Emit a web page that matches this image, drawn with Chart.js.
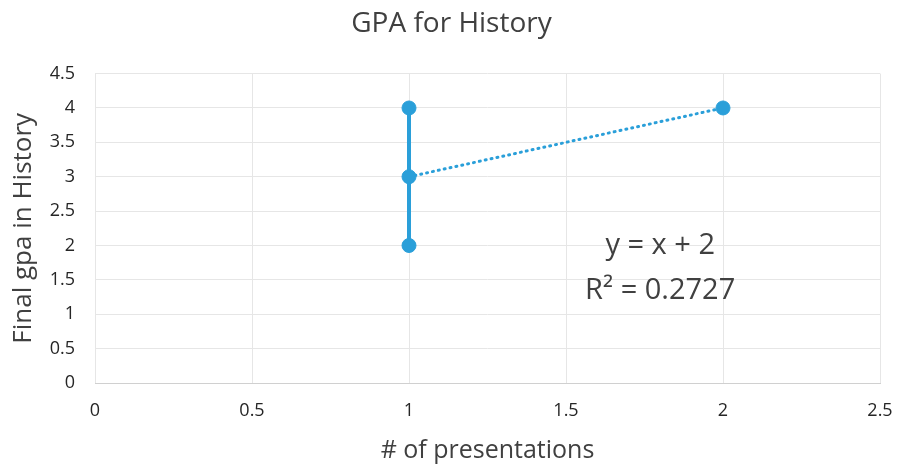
<!DOCTYPE html>
<html>
<head>
<meta charset="utf-8">
<script src="https://cdn.jsdelivr.net/npm/chart.js@4"></script>
<style>
  html, body { margin: 0; padding: 0; background: #fff; }
  #wrap { position: relative; width: 897px; height: 468px; }
</style>
</head>
<body>
<div id="wrap"><canvas id="chart"></canvas></div>
<script>
const presentations = [1, 1, 1, 2];
const finalGpa = [4, 3, 2, 4];

const xTicks = [0, 0.5, 1, 1.5, 2, 2.5];
const yTicks = [0, 0.5, 1, 1.5, 2, 2.5, 3, 3.5, 4, 4.5];

const equationLines = ['y = x + 2', 'R² = 0.2727'];
const equationAt = { x: 1.8, y: [2.0, 1.34] };

const blue = '#2a9fd9';
const textGrey = '#404040';
const font = '"Open Sans", "Liberation Sans", sans-serif';

const points = presentations.map((x, i) => ({ x: x, y: finalGpa[i] }));

// linear trendline through the observations, drawn across the data range
const n = points.length;
const mx = presentations.reduce((a, b) => a + b, 0) / n;
const my = finalGpa.reduce((a, b) => a + b, 0) / n;
let sxy = 0, sxx = 0;
points.forEach(p => { sxy += (p.x - mx) * (p.y - my); sxx += (p.x - mx) * (p.x - mx); });
const slope = sxy / sxx;
const intercept = my - slope * mx;
const xMin = Math.min(...presentations), xMax = Math.max(...presentations);
const trend = [
    { x: xMin, y: slope * xMin + intercept },
    { x: xMax, y: slope * xMax + intercept }
];

// the series line only joins the points that share x = 1
const joined = points.filter(p => p.x === xMin);

const equationPlugin = {
    id: 'equation',
    afterDatasetsDraw(chart) {
        const ctx = chart.ctx;
        const xs = chart.scales.x, ys = chart.scales.y;
        ctx.save();
        ctx.fillStyle = textGrey;
        ctx.font = '29px ' + font;
        ctx.textAlign = 'center';
        ctx.textBaseline = 'middle';
        equationLines.forEach((t, i) => {
            ctx.fillText(t, xs.getPixelForValue(equationAt.x), ys.getPixelForValue(equationAt.y[i]));
        });
        ctx.restore();
    }
};

new Chart(document.getElementById('chart'), {
    type: 'scatter',
    data: {
        datasets: [
            {
                label: 'trend',
                data: trend,
                showLine: true,
                borderColor: blue,
                borderWidth: 3,
                borderDash: [1, 5],
                borderCapStyle: 'round',
                pointRadius: 0,
                order: 3
            },
            {
                label: 'line',
                data: joined,
                showLine: true,
                borderColor: blue,
                borderWidth: 4,
                pointRadius: 0,
                order: 2
            },
            {
                label: 'Final gpa',
                data: points,
                backgroundColor: blue,
                borderColor: blue,
                pointRadius: 7,
                order: 1
            }
        ]
    },
    options: {
        responsive: true,
        maintainAspectRatio: false,
        animation: false,
        layout: { padding: { left: 6, right: 0, top: 0, bottom: 0 } },
        plugins: {
            legend: { display: false },
            tooltip: { enabled: false },
            title: {
                display: true,
                text: 'GPA for History',
                color: textGrey,
                font: { family: font, size: 28, weight: 'normal' },
                padding: { top: 7, bottom: 33 }
            }
        },
        scales: {
            x: {
                type: 'linear',
                min: 0,
                max: 2.5,
                afterBuildTicks: s => { s.ticks = xTicks.map(v => ({ value: v })); },
                afterFit: s => { s.height = 85; s.paddingRight = 17; s.paddingLeft = 0; },
                grid: { color: '#e6e6e6', drawTicks: false },
                border: { color: '#d0d0d0' },
                ticks: { color: '#262626', padding: 17, font: { family: font, size: 18 }, callback: v => String(v) },
                title: {
                    display: true,
                    text: '# of presentations',
                    color: textGrey,
                    font: { family: font, size: 25 },
                    padding: { top: 6, bottom: 2 }
                }
            },
            y: {
                min: 0,
                max: 4.5,
                afterBuildTicks: s => { s.ticks = yTicks.map(v => ({ value: v })); },
                afterFit: s => { s.width = 89; },
                grid: { color: '#e6e6e6', drawTicks: false },
                border: { display: false },
                ticks: { color: '#262626', padding: 20, font: { family: font, size: 18 }, callback: v => String(v) },
                title: {
                    display: true,
                    text: 'Final gpa in History',
                    color: textGrey,
                    font: { family: font, size: 26 },
                    padding: { top: 2, bottom: 4 }
                }
            }
        }
    },
    plugins: [equationPlugin]
});
</script>
</body>
</html>
